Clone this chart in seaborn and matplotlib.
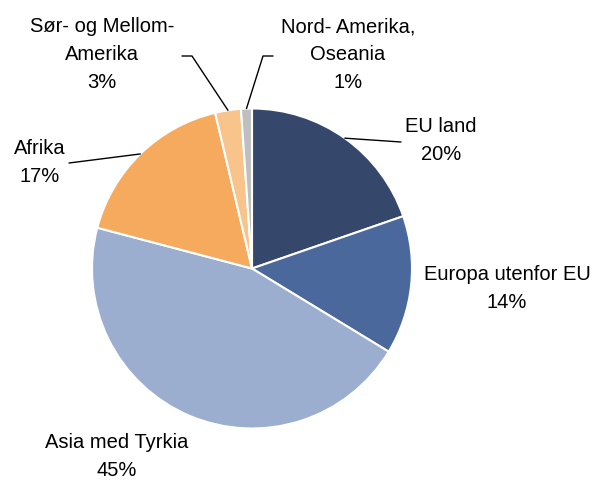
import numpy as np
import matplotlib
matplotlib.use("Agg")
import matplotlib.pyplot as plt
import seaborn as sns

# data
regions = ["EU land", "Europa utenfor EU", "Asia med Tyrkia", "Afrika",
           "Sør- og Mellom-\nAmerika", "Nord- Amerika,\nOseania"]
shares = [19.7, 14.0, 45.4, 17.2, 2.6, 1.1]
colors = ["#35476A", "#4A689C", "#9BAED0", "#F5AA5E", "#F9C38C", "#BFBFBF"]

W, H = 593, 482

def px(x, y):
    # pixel coords (from top-left) -> data coords (y up)
    return x, H - y

sns.set_style("white")
plt.rcParams["font.family"] = ["Liberation Sans", "DejaVu Sans"]

fig = plt.figure(figsize=(W / 100, H / 100), dpi=100)
ax = fig.add_axes([0, 0, 1, 1])
ax.set_aspect("equal")
ax.axis("off")

cx, cy = px(252, 268.5)
radius = 160
wedges, _ = ax.pie(shares, colors=sns.color_palette(colors), startangle=90,
                   counterclock=False, center=(cx, cy), radius=radius,
                   wedgeprops=dict(edgecolor="white", linewidth=1.5))
ax.set_xlim(0, W)
ax.set_ylim(0, H)

# label layout: text centre and leader path (pixel coords)
label_pos = [(441, 141), (507, 288), (117, 457), (40, 162), (102, 55), (348, 55)]
leader_end = [[(401, 142)], None, None, [(69, 163)],
              [(192, 56), (182, 56)], [(263, 56), (273, 56)]]

for w, name, val, pos, path in zip(wedges, regions, shares, label_pos, leader_end):
    tx, ty = px(*pos)
    ax.text(tx, ty, f"{name}\n{val:.0f}%", ha="center", va="center",
            fontsize=14.5, color="#000000", linespacing=1.6)
    if path is None:
        continue
    mid = np.deg2rad((w.theta1 + w.theta2) / 2)
    xs = [cx + radius * np.cos(mid)]
    ys = [cy + radius * np.sin(mid)]
    for p in path:
        x, y = px(*p)
        xs.append(x)
        ys.append(y)
    ax.plot(xs, ys, color="#000000", lw=1)

fig.savefig("out.png", dpi=100)
